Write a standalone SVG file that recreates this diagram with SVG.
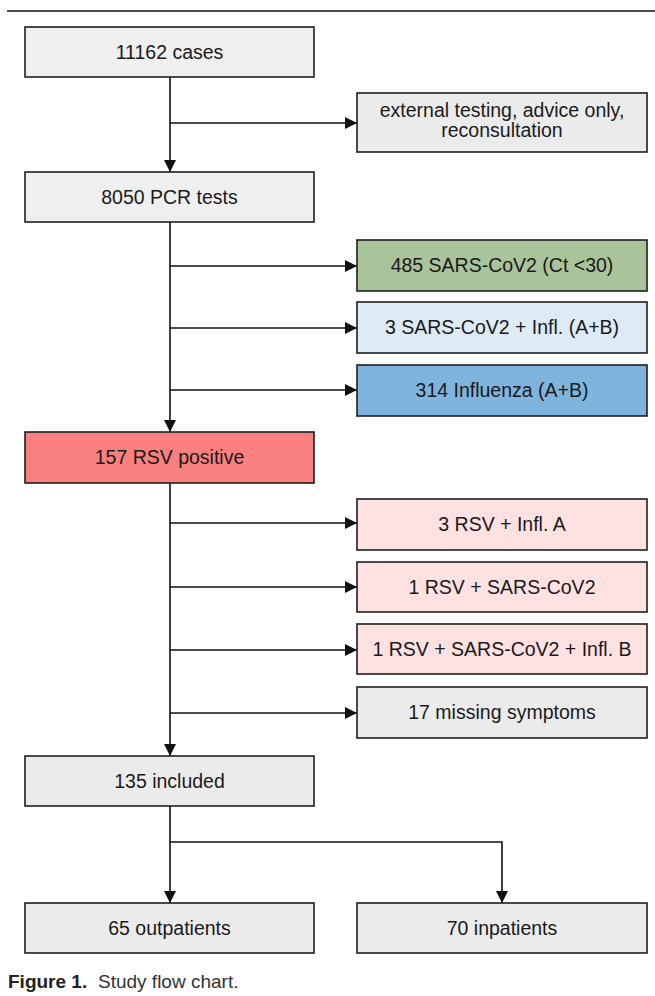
<svg xmlns="http://www.w3.org/2000/svg" width="655" height="996" viewBox="0 0 655 996">
<defs>
<style>
.box{stroke:#1e1e1e;stroke-width:1.6}
.gray{fill:#efefef}
.gray2{fill:#ebebeb}
.green{fill:#a9c49b}
.lblue{fill:#deeaf6}
.blue{fill:#7eb4de}
.red{fill:#fa7f7f}
.pink{fill:#fee1e1}
.t{font-family:"Liberation Sans",Arial,sans-serif;font-size:19.5px;fill:#1a1a1a;text-anchor:middle}
.c{stroke:#111;stroke-width:1.6;fill:none}
.cap{font-family:"Liberation Sans",Arial,sans-serif;font-size:19px;fill:#333}
</style>
<marker id="ah" viewBox="0 0 12 12" refX="12" refY="6" markerWidth="12" markerHeight="12" markerUnits="userSpaceOnUse" orient="auto">
<path d="M0,0 L12,6 L0,12 z" fill="#111"/>
</marker>
</defs>
<rect width="655" height="996" fill="#ffffff"/>
<line x1="7" y1="11" x2="655" y2="11" stroke="#111" stroke-width="1.6"/>

<g id="connectors">
<line class="c" x1="170" y1="77" x2="170" y2="172" marker-end="url(#ah)"/>
<line class="c" x1="170" y1="123" x2="357" y2="123" marker-end="url(#ah)"/>
<line class="c" x1="170" y1="222" x2="170" y2="432" marker-end="url(#ah)"/>
<line class="c" x1="170" y1="266" x2="357" y2="266" marker-end="url(#ah)"/>
<line class="c" x1="170" y1="328" x2="357" y2="328" marker-end="url(#ah)"/>
<line class="c" x1="170" y1="390" x2="357" y2="390" marker-end="url(#ah)"/>
<line class="c" x1="170" y1="483" x2="170" y2="756" marker-end="url(#ah)"/>
<line class="c" x1="170" y1="523" x2="357" y2="523" marker-end="url(#ah)"/>
<line class="c" x1="170" y1="587" x2="357" y2="587" marker-end="url(#ah)"/>
<line class="c" x1="170" y1="650" x2="357" y2="650" marker-end="url(#ah)"/>
<line class="c" x1="170" y1="713" x2="357" y2="713" marker-end="url(#ah)"/>
<line class="c" x1="170" y1="806" x2="170" y2="903" marker-end="url(#ah)"/>
<polyline class="c" points="170,842 502,842 502,903" marker-end="url(#ah)"/>
</g>

<g id="n1"><rect class="box gray" x="25" y="27" width="289" height="50"/><text class="t" x="169.5" y="59">11162 cases</text></g>
<g id="n2"><rect class="box gray2" x="357" y="93" width="290" height="59"/><text class="t" x="502" y="117">external testing, advice only,</text><text class="t" x="502" y="137">reconsultation</text></g>
<g id="n3"><rect class="box gray" x="25" y="172" width="289" height="50"/><text class="t" x="169.5" y="204">8050 PCR tests</text></g>
<g id="n4"><rect class="box green" x="357" y="240" width="290" height="51"/><text class="t" x="502" y="272">485 SARS-CoV2 (Ct &lt;30)</text></g>
<g id="n5"><rect class="box lblue" x="357" y="302" width="290" height="51"/><text class="t" x="502" y="334">3 SARS-CoV2 + Infl. (A+B)</text></g>
<g id="n6"><rect class="box blue" x="357" y="365" width="290" height="51"/><text class="t" x="502" y="397">314 Influenza (A+B)</text></g>
<g id="n7"><rect class="box red" x="25" y="432" width="289" height="51"/><text class="t" x="169.5" y="464">157 RSV positive</text></g>
<g id="n8"><rect class="box pink" x="357" y="499" width="290" height="51"/><text class="t" x="502" y="531">3 RSV + Infl. A</text></g>
<g id="n9"><rect class="box pink" x="357" y="562" width="290" height="50"/><text class="t" x="502" y="594">1 RSV + SARS-CoV2</text></g>
<g id="n10"><rect class="box pink" x="357" y="624" width="290" height="50"/><text class="t" x="502" y="656">1 RSV + SARS-CoV2 + Infl. B</text></g>
<g id="n11"><rect class="box gray2" x="357" y="687" width="290" height="51"/><text class="t" x="502" y="719">17 missing symptoms</text></g>
<g id="n12"><rect class="box gray2" x="25" y="756" width="289" height="50"/><text class="t" x="169.5" y="788">135 included</text></g>
<g id="n13"><rect class="box gray2" x="25" y="903" width="289" height="50"/><text class="t" x="169.5" y="935">65 outpatients</text></g>
<g id="n14"><rect class="box gray2" x="357" y="903" width="290" height="50"/><text class="t" x="502" y="935">70 inpatients</text></g>

<text class="cap" x="8" y="988"><tspan font-weight="bold" fill="#222">Figure 1.</tspan><tspan x="98">Study flow chart.</tspan></text>
</svg>
